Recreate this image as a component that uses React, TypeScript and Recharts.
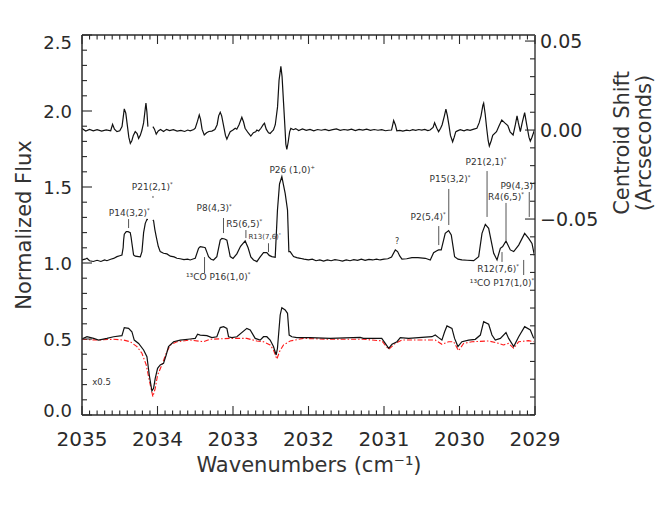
import React from "react";
import { LineChart, Line, XAxis, YAxis, ReferenceLine, ReferenceDot } from "recharts";

// wavenumber (cm^-1), centroid shift (arcsec) - top trace
const centroidShift: [number, number | null][] = [
  [2035.0, 0.0009], [2034.95, -0.0006], [2034.9, 0.0003], [2034.85, -0.0004], [2034.8, 0.0002],
  [2034.74, -0.0006], [2034.68, 0.0001], [2034.62, -0.0004], [2034.595, 0.0032], [2034.57, 0.0005],
  [2034.537, -0.0009], [2034.5, -0.0004], [2034.47, 0.002], [2034.44, 0.0119], [2034.42, 0.0095],
  [2034.4, 0.0028], [2034.38, -0.004], [2034.36, -0.0075], [2034.34, -0.006], [2034.32, -0.003],
  [2034.295, -0.0009], [2034.27, -0.002], [2034.25, -0.0047], [2034.228, -0.003], [2034.206, 0.0],
  [2034.184, 0.004], [2034.162, 0.012], [2034.153, 0.0151], [2034.14, 0.01], [2034.127, 0.0019],
  [2034.1, null],
  [2034.061, 0.0019], [2034.04, 0.0005], [2034.017, -0.0023], [2033.99, -0.0005], [2033.96, 0.0003],
  [2033.92, -0.0008], [2033.88, 0.0004], [2033.84, -0.0003], [2033.79, 0.0002], [2033.74, -0.0006],
  [2033.69, -0.0002], [2033.64, -0.0008], [2033.6, 0.0], [2033.567, -0.0004], [2033.52, 0.0003],
  [2033.5, 0.001], [2033.47, 0.005], [2033.447, 0.0085], [2033.43, 0.006], [2033.41, 0.0005],
  [2033.381, -0.0028], [2033.35, -0.0015], [2033.32, -0.0008], [2033.28, -0.0006], [2033.24, 0.0003],
  [2033.21, 0.003], [2033.19, 0.008], [2033.169, 0.01], [2033.15, 0.008], [2033.125, 0.0025],
  [2033.1, -0.003], [2033.081, -0.0051], [2033.06, -0.003], [2033.037, -0.0009], [2033.0, 0.0],
  [2032.97, 0.001], [2032.95, 0.0005], [2032.92, 0.003], [2032.883, 0.0072], [2032.86, 0.0045],
  [2032.84, 0.001], [2032.8, -0.0015], [2032.764, -0.0034], [2032.73, -0.0015], [2032.7, -0.001],
  [2032.684, 0.0], [2032.66, -0.0005], [2032.63, 0.001], [2032.6, 0.003], [2032.583, 0.0038],
  [2032.56, 0.0005], [2032.53, -0.0015], [2032.508, -0.0019], [2032.486, -0.0009], [2032.464, 0.0],
  [2032.44, 0.003], [2032.41, 0.013], [2032.39, 0.028], [2032.366, 0.0358], [2032.35, 0.03],
  [2032.33, 0.015], [2032.31, 0.0], [2032.3, -0.008], [2032.287, -0.0109], [2032.27, -0.007],
  [2032.25, -0.001], [2032.234, 0.0009], [2032.2, 0.0002], [2032.17, 0.0008], [2032.13, -0.0003],
  [2032.08, 0.0006], [2032.03, -0.0002], [2031.98, 0.0004], [2031.93, -0.0004], [2031.88, 0.0003],
  [2031.83, -0.0001], [2031.78, 0.0004], [2031.73, -0.0003], [2031.68, 0.0002], [2031.63, 0.0006],
  [2031.58, -0.0002], [2031.53, 0.0003], [2031.48, 0.0], [2031.43, 0.0005], [2031.38, -0.0003],
  [2031.33, 0.0004], [2031.28, 0.0], [2031.23, 0.0005], [2031.18, -0.0002], [2031.13, 0.0003],
  [2031.08, -0.0001], [2031.03, 0.0002], [2030.98, -0.0004], [2030.94, -0.0001], [2030.9, 0.0],
  [2030.872, 0.0053], [2030.85, 0.003], [2030.83, -0.0004], [2030.79, -0.0002], [2030.75, -0.0006],
  [2030.7, -0.0001], [2030.66, -0.0004], [2030.62, 0.0002], [2030.58, -0.0002], [2030.54, 0.0003],
  [2030.5, 0.0], [2030.46, 0.0004], [2030.42, -0.0003], [2030.39, 0.0], [2030.35, 0.0015],
  [2030.33, 0.0041], [2030.3, 0.001], [2030.277, -0.0009], [2030.25, 0.001], [2030.23, 0.003],
  [2030.2, 0.008], [2030.18, 0.0117], [2030.16, 0.008], [2030.14, 0.0028], [2030.12, -0.003],
  [2030.091, -0.0066], [2030.07, -0.004], [2030.05, -0.001], [2030.034, -0.0006], [2029.99, 0.0002],
  [2029.94, -0.0004], [2029.9, 0.0002], [2029.86, -0.0002], [2029.81, 0.0005], [2029.77, 0.001],
  [2029.74, 0.004], [2029.715, 0.008], [2029.69, 0.014], [2029.68, 0.0151], [2029.66, 0.009],
  [2029.64, 0.001], [2029.62, -0.006], [2029.605, -0.009], [2029.58, -0.006], [2029.56, -0.003],
  [2029.51, -0.0009], [2029.48, 0.002], [2029.44, 0.0056], [2029.4, 0.004], [2029.36, 0.0025],
  [2029.33, -0.001], [2029.29, -0.0028], [2029.26, 0.003], [2029.238, 0.0079], [2029.22, 0.004],
  [2029.194, -0.0009], [2029.17, 0.004], [2029.137, 0.0098], [2029.11, 0.003], [2029.08, -0.004],
  [2029.062, -0.0062], [2029.04, -0.004], [2029.0, 0.0009],
];

// normalized flux - middle trace
const fluxSpectrum: [number, number | null][] = [
  [2035.0, 1.02], [2034.96, 1.025], [2034.934, 1.031], [2034.9, 1.015], [2034.85, 1.01],
  [2034.8, 1.018], [2034.75, 1.01], [2034.7, 1.02], [2034.67, 1.015], [2034.62, 1.025],
  [2034.581, 1.03], [2034.537, 1.042], [2034.5, 1.048], [2034.471, 1.053], [2034.455, 1.1],
  [2034.449, 1.15], [2034.44, 1.19], [2034.414, 1.206], [2034.39, 1.206], [2034.361, 1.2],
  [2034.35, 1.17], [2034.339, 1.13], [2034.317, 1.053], [2034.295, 1.045], [2034.25, 1.042],
  [2034.228, 1.04], [2034.206, 1.075], [2034.184, 1.2], [2034.162, 1.261], [2034.14, 1.287],
  [2034.127, 1.285], [2034.1, null], [2034.061, 1.283], [2034.052, 1.278], [2034.035, 1.22],
  [2034.017, 1.173], [2033.99, 1.11], [2033.964, 1.075], [2033.92, 1.064], [2033.875, 1.06],
  [2033.83, 1.045], [2033.78, 1.04], [2033.743, 1.031], [2033.7, 1.028], [2033.65, 1.022],
  [2033.6, 1.025], [2033.567, 1.02], [2033.52, 1.028], [2033.5, 1.031], [2033.456, 1.097],
  [2033.434, 1.108], [2033.4, 1.105], [2033.368, 1.1], [2033.345, 1.07], [2033.324, 1.042],
  [2033.29, 1.025], [2033.258, 1.02], [2033.214, 1.042], [2033.169, 1.151], [2033.147, 1.162],
  [2033.11, 1.158], [2033.081, 1.15], [2033.06, 1.1], [2033.037, 1.042], [2033.0, 1.03],
  [2032.949, 1.06], [2032.9, 1.11], [2032.839, 1.145], [2032.8, 1.1], [2032.764, 1.04],
  [2032.728, 1.02], [2032.684, 1.009], [2032.64, 1.04], [2032.596, 1.068], [2032.552, 1.068],
  [2032.52, 1.05], [2032.486, 1.042], [2032.441, 1.038], [2032.411, 1.349], [2032.384, 1.52],
  [2032.353, 1.568], [2032.331, 1.513], [2032.309, 1.458], [2032.278, 1.349], [2032.26, 1.075],
  [2032.243, 1.075], [2032.198, 1.042], [2032.155, 1.035], [2032.11, 1.031], [2032.06, 1.025],
  [2032.0, 1.02], [2031.95, 1.025], [2031.9, 1.015], [2031.85, 1.02], [2031.8, 1.012],
  [2031.75, 1.02], [2031.7, 1.015], [2031.65, 1.022], [2031.6, 1.018], [2031.55, 1.012],
  [2031.5, 1.02], [2031.45, 1.015], [2031.4, 1.022], [2031.35, 1.017], [2031.3, 1.025],
  [2031.25, 1.018], [2031.2, 1.024], [2031.15, 1.02], [2031.1, 1.026], [2031.05, 1.02],
  [2031.0, 1.025], [2030.95, 1.028], [2030.9, 1.04], [2030.85, 1.086], [2030.82, 1.075],
  [2030.79, 1.045], [2030.762, 1.025], [2030.7, 1.028], [2030.63, 1.035], [2030.55, 1.035],
  [2030.453, 1.031], [2030.387, 1.02], [2030.343, 1.068], [2030.3, 1.08], [2030.277, 1.086],
  [2030.242, 1.086], [2030.189, 1.195], [2030.144, 1.213], [2030.109, 1.184], [2030.065, 1.042],
  [2030.02, 1.025], [2029.968, 1.02], [2029.9, 1.018], [2029.812, 1.015], [2029.746, 1.042],
  [2029.702, 1.195], [2029.658, 1.254], [2029.614, 1.228], [2029.547, 1.064], [2029.503, 1.02],
  [2029.459, 1.097], [2029.428, 1.108], [2029.384, 1.145], [2029.327, 1.086], [2029.282, 1.075],
  [2029.216, 1.118], [2029.137, 1.195], [2029.084, 1.162], [2029.04, 1.129], [2029.0, 1.031],
];

// observed spectrum x0.5 - bottom trace
const scaledSpectrum: [number, number][] = [
  [2035.0, 0.5], [2034.934, 0.515], [2034.846, 0.504], [2034.78, 0.493], [2034.67, 0.504],
  [2034.581, 0.515], [2034.471, 0.522], [2034.44, 0.575], [2034.383, 0.57], [2034.339, 0.548],
  [2034.308, 0.493], [2034.25, 0.471], [2034.184, 0.428], [2034.14, 0.384], [2034.109, 0.263],
  [2034.074, 0.158], [2034.052, 0.175], [2034.03, 0.241], [2033.999, 0.307], [2033.964, 0.329],
  [2033.92, 0.34], [2033.885, 0.395], [2033.854, 0.45], [2033.787, 0.482], [2033.699, 0.493],
  [2033.567, 0.5], [2033.5, 0.504], [2033.469, 0.531], [2033.434, 0.526], [2033.346, 0.522],
  [2033.28, 0.509], [2033.214, 0.515], [2033.169, 0.575], [2033.125, 0.581], [2033.081, 0.57],
  [2033.059, 0.515], [2033.015, 0.509], [2032.949, 0.515], [2032.817, 0.57], [2032.772, 0.559],
  [2032.706, 0.504], [2032.64, 0.493], [2032.596, 0.515], [2032.552, 0.515], [2032.508, 0.493],
  [2032.464, 0.45], [2032.428, 0.395], [2032.411, 0.439], [2032.375, 0.658], [2032.353, 0.706],
  [2032.309, 0.691], [2032.278, 0.669], [2032.256, 0.526], [2032.22, 0.515], [2032.155, 0.509],
  [2031.978, 0.509], [2031.713, 0.504], [2031.316, 0.511], [2031.272, 0.504], [2031.03, 0.504],
  [2030.983, 0.471], [2030.938, 0.439], [2030.894, 0.465], [2030.828, 0.482], [2030.784, 0.509],
  [2030.674, 0.504], [2030.497, 0.511], [2030.365, 0.515], [2030.321, 0.526], [2030.277, 0.509],
  [2030.233, 0.493], [2030.197, 0.548], [2030.166, 0.586], [2030.1, 0.57], [2030.065, 0.504],
  [2030.021, 0.45], [2029.968, 0.482], [2029.879, 0.493], [2029.791, 0.498], [2029.724, 0.526],
  [2029.68, 0.614], [2029.614, 0.597], [2029.57, 0.526], [2029.526, 0.493], [2029.459, 0.504],
  [2029.384, 0.542], [2029.349, 0.504], [2029.282, 0.45], [2029.216, 0.515], [2029.137, 0.581],
  [2029.062, 0.559], [2029.017, 0.504],
];

// model spectrum (red dash-dot)
const modelSpectrum: [number, number][] = [
  [2035.0, 0.498], [2034.802, 0.493], [2034.581, 0.498], [2034.449, 0.493], [2034.361, 0.482],
  [2034.272, 0.45], [2034.206, 0.406], [2034.149, 0.329], [2034.105, 0.219], [2034.061, 0.121],
  [2034.03, 0.175], [2033.999, 0.263], [2033.942, 0.329], [2033.885, 0.406], [2033.831, 0.461],
  [2033.743, 0.482], [2033.567, 0.493], [2033.39, 0.482], [2033.302, 0.498], [2033.037, 0.504],
  [2032.817, 0.504], [2032.684, 0.487], [2032.596, 0.482], [2032.508, 0.461], [2032.464, 0.428],
  [2032.419, 0.368], [2032.384, 0.417], [2032.331, 0.461], [2032.243, 0.487], [2032.067, 0.504],
  [2031.713, 0.498], [2031.272, 0.498], [2031.03, 0.488], [2030.938, 0.432], [2030.85, 0.471],
  [2030.762, 0.493], [2030.497, 0.493], [2030.321, 0.493], [2030.233, 0.465], [2030.144, 0.482],
  [2030.078, 0.482], [2030.012, 0.423], [2029.946, 0.471], [2029.835, 0.482], [2029.614, 0.487],
  [2029.481, 0.471], [2029.419, 0.461], [2029.349, 0.471], [2029.282, 0.439], [2029.216, 0.482],
  [2029.084, 0.489], [2029.017, 0.482],
];

// line identifications: label text, superscript mark, position (wavenumber, flux), font size
const lineLabels = [
  { text: "P14(3,2)", sup: "*", wn: 2034.374, flux: 1.309, size: 9 },
  { text: "P21(2,1)", sup: "*", wn: 2034.07, flux: 1.48, size: 9 },
  { text: "P8(4,3)", sup: "*", wn: 2033.249, flux: 1.339, size: 9 },
  { text: "R5(6,5)", sup: "*", wn: 2032.852, flux: 1.237, size: 9 },
  { text: "R13(7,6)", sup: "*", wn: 2032.58, flux: 1.158, size: 7 },
  { text: "P26 (1,0)", sup: "+", wn: 2032.216, flux: 1.592, size: 9 },
  { text: "¹³CO P16(1,0)", sup: "*", wn: 2033.196, flux: 0.891, size: 9 },
  { text: "?", sup: "", wn: 2030.827, flux: 1.122, size: 8 },
  { text: "P2(5,4)", sup: "*", wn: 2030.416, flux: 1.283, size: 9 },
  { text: "P15(3,2)", sup: "*", wn: 2030.125, flux: 1.53, size: 9 },
  { text: "P21(2,1)", sup: "*", wn: 2029.649, flux: 1.648, size: 9 },
  { text: "R4(6,5)", sup: "*", wn: 2029.384, flux: 1.414, size: 9 },
  { text: "P9(4,3)", sup: "*", wn: 2029.225, flux: 1.484, size: 9 },
  { text: "R12(7,6)", sup: "*", wn: 2029.49, flux: 0.941, size: 9 },
  { text: "¹³CO P17(1,0)", sup: "*", wn: 2029.437, flux: 0.849, size: 9 },
];

// marker ticks under/over the labels: wavenumber, flux from -> to
const labelTicks = [
  { wn: 2034.383, from: 1.23, to: 1.289 },
  { wn: 2034.06, from: 1.428, to: 1.441 },
  { wn: 2033.126, from: 1.197, to: 1.296 },
  { wn: 2032.829, from: 1.164, to: 1.217 },
  { wn: 2032.53, from: 1.072, to: 1.13 },
  { wn: 2033.377, from: 0.934, to: 1.039 },
  { wn: 2030.275, from: 1.118, to: 1.243 },
  { wn: 2030.142, from: 1.25, to: 1.487 },
  { wn: 2029.635, from: 1.303, to: 1.605 },
  { wn: 2029.384, from: 1.151, to: 1.395 },
  { wn: 2029.076, from: 1.303, to: 1.467 },
  { wn: 2029.437, from: 1.007, to: 1.072 },
  { wn: 2029.15, from: 0.921, to: 1.02 },
];

const scaleNote = { text: "x0.5", wn: 2034.864, flux: 0.197 };

const xMajor = [2029, 2030, 2031, 2032, 2033, 2034, 2035];
const fluxMajor = [0, 0.5, 1.0, 1.5, 2.0, 2.5];
const shiftMajor = [-0.05, 0, 0.05];

const range = (a: number, b: number, step: number) => {
  const out: number[] = [];
  const n = Math.round((b - a) / step);
  for (let i = 0; i <= n; i++) out.push(Math.round((a + i * step) * 1000) / 1000);
  return out;
};
const xTicks = range(2029, 2035, 0.1);
const fluxTicks = range(0, 2.5, 0.1);
const shiftTicks = range(-0.16, 0.05, 0.01);

const isMajor = (v: number, majors: number[]) => majors.some((m) => Math.abs(m - v) < 1e-6);

const FONT = "'DejaVu Sans', sans-serif";
const AXIS = "#2a2a2a";
const TXT = "#2a2a2a";

const pts = (arr: [number, number | null][]) => arr.map(([x, y]) => ({ x, y }));

function BottomTick(props: any) {
  const { x, y, payload } = props;
  const major = isMajor(payload.value, xMajor);
  return (
    <g>
      <line x1={x} x2={x} y1={y} y2={y - (major ? 9 : 4.5)} stroke={AXIS} strokeWidth={1.1} />
      {major && (
        <text x={x} y={y + 31} textAnchor="middle" fontSize={20} fill={TXT} fontFamily={FONT}>
          {Math.round(payload.value)}
        </text>
      )}
    </g>
  );
}

function TopTick(props: any) {
  const { x, y, payload } = props;
  const major = isMajor(payload.value, xMajor);
  return <line x1={x} x2={x} y1={y} y2={y + (major ? 9 : 4.5)} stroke={AXIS} strokeWidth={1.1} />;
}

function FluxTick(props: any) {
  const { x, y, payload } = props;
  const v = payload.value;
  const major = isMajor(v, fluxMajor);
  const nudge = v >= 2.5 ? 7 : v <= 0 ? -5 : 0;
  return (
    <g>
      <line x1={x} x2={x + (major ? 10 : 5)} y1={y} y2={y} stroke={AXIS} strokeWidth={1.1} />
      {major && (
        <text x={x - 10} y={y + nudge + 6.5} textAnchor="end" fontSize={18} fill={TXT} fontFamily={FONT}>
          {v.toFixed(1)}
        </text>
      )}
    </g>
  );
}

function ShiftTick(props: any) {
  const { x, y, payload } = props;
  const v = payload.value;
  const major = isMajor(v, shiftMajor);
  const label = v < 0 ? "\u2212" + Math.abs(v).toFixed(2) : v.toFixed(2);
  return (
    <g>
      <line x1={x} x2={x - (major ? 10 : 5)} y1={y} y2={y} stroke={AXIS} strokeWidth={1.1} />
      {major && (
        <text x={x + 5} y={y + 7} textAnchor="start" fontSize={19} fill={TXT} fontFamily={FONT}>
          {label}
        </text>
      )}
    </g>
  );
}

export default function App() {
  return (
    <div style={{ position: "absolute", left: 0, top: 0, width: 660, height: 510, background: "#fff" }}>
      <LineChart width={660} height={510} margin={{ top: 34, right: 65, bottom: 35, left: 22 }}>
        <XAxis
          xAxisId="b" dataKey="x" type="number" domain={[2029, 2035]} reversed allowDataOverflow
          ticks={xTicks} interval={0} height={60} tickSize={0} tickMargin={0} tickLine={false}
          axisLine={{ stroke: AXIS, strokeWidth: 1.5 }} tick={<BottomTick />}
        />
        <XAxis
          xAxisId="t" orientation="top" dataKey="x" type="number" domain={[2029, 2035]} reversed allowDataOverflow
          ticks={xTicks} interval={0} height={1} tickSize={0} tickMargin={0} tickLine={false}
          axisLine={{ stroke: AXIS, strokeWidth: 1.5 }} tick={<TopTick />}
        />
        <YAxis
          yAxisId="flux" type="number" domain={[0, 2.5]} allowDataOverflow ticks={fluxTicks} interval={0}
          width={60} tickSize={0} tickMargin={0} tickLine={false}
          axisLine={{ stroke: AXIS, strokeWidth: 1.5 }} tick={<FluxTick />}
        />
        <YAxis
          yAxisId="shift" orientation="right" type="number" domain={[-0.1601, 0.0534]} allowDataOverflow
          ticks={shiftTicks} interval={0} width={60} tickSize={0} tickMargin={0} tickLine={false}
          axisLine={{ stroke: "#707070", strokeWidth: 2 }} tick={<ShiftTick />}
        />

        {labelTicks.map((t, i) => (
          <ReferenceLine
            key={"t" + i} xAxisId="b" yAxisId="flux" ifOverflow="visible"
            segment={[{ x: t.wn, y: t.from }, { x: t.wn, y: t.to }]}
            stroke="#555" strokeWidth={1}
          />
        ))}
        {lineLabels.map((l, i) => (
          <ReferenceDot
            key={"l" + i} xAxisId="b" yAxisId="flux" x={l.wn} y={l.flux} r={0} ifOverflow="visible"
            shape={(p: any) => (
              <text x={p.cx} y={p.cy} textAnchor="middle" fontSize={l.size} fill="#333" fontFamily={FONT}>
                {l.text}
                {l.sup && (
                  <tspan fontSize={l.size * 0.6} dy={-l.size * 0.4}>{l.sup}</tspan>
                )}
              </text>
            )}
          />
        ))}
        <ReferenceDot
          xAxisId="b" yAxisId="flux" x={scaleNote.wn} y={scaleNote.flux} r={0} ifOverflow="visible"
          shape={(p: any) => (
            <text x={p.cx} y={p.cy} textAnchor="start" fontSize={8.5} fill="#333" fontFamily={FONT}>
              {scaleNote.text}
            </text>
          )}
        />

        {/* invisible copy so the top (frame) axis gets its ticks */}
        <Line
          data={pts(modelSpectrum)} dataKey="y" xAxisId="t" yAxisId="flux" type="linear"
          stroke="none" strokeWidth={0} dot={false} activeDot={false} isAnimationActive={false}
        />
        <Line
          data={pts(modelSpectrum)} dataKey="y" xAxisId="b" yAxisId="flux" type="linear"
          stroke="#ff1a1a" strokeWidth={1.1} strokeDasharray="5 2 1.5 2" dot={false} isAnimationActive={false}
        />
        <Line
          data={pts(scaledSpectrum)} dataKey="y" xAxisId="b" yAxisId="flux" type="linear"
          stroke="#111" strokeWidth={1.2} dot={false} isAnimationActive={false}
        />
        <Line
          data={pts(fluxSpectrum)} dataKey="y" xAxisId="b" yAxisId="flux" type="linear"
          stroke="#111" strokeWidth={1.2} dot={false} isAnimationActive={false}
        />
        <Line
          data={pts(centroidShift)} dataKey="y" xAxisId="b" yAxisId="shift" type="linear"
          stroke="#111" strokeWidth={1.2} dot={false} isAnimationActive={false}
        />
      </LineChart>

      <div style={{ position: "absolute", left: 24, top: 225, transform: "translate(-50%, -50%) rotate(-90deg)", fontFamily: FONT, fontSize: 21, color: "#333", whiteSpace: "nowrap" }}>
        Normalized Flux
      </div>
      <div style={{ position: "absolute", left: 622, top: 143, transform: "translate(-50%, -50%) rotate(-90deg)", fontFamily: FONT, fontSize: 21, color: "#333", whiteSpace: "nowrap" }}>
        Centroid Shift
      </div>
      <div style={{ position: "absolute", left: 644, top: 143, transform: "translate(-50%, -50%) rotate(-90deg)", fontFamily: FONT, fontSize: 21, color: "#333", whiteSpace: "nowrap" }}>
        (Arcseconds)
      </div>
      <div style={{ position: "absolute", left: 309, top: 465, transform: "translate(-50%, -50%)", fontFamily: FONT, fontSize: 21, color: "#333", whiteSpace: "nowrap" }}>
        Wavenumbers (cm⁻¹)
      </div>
    </div>
  );
}
